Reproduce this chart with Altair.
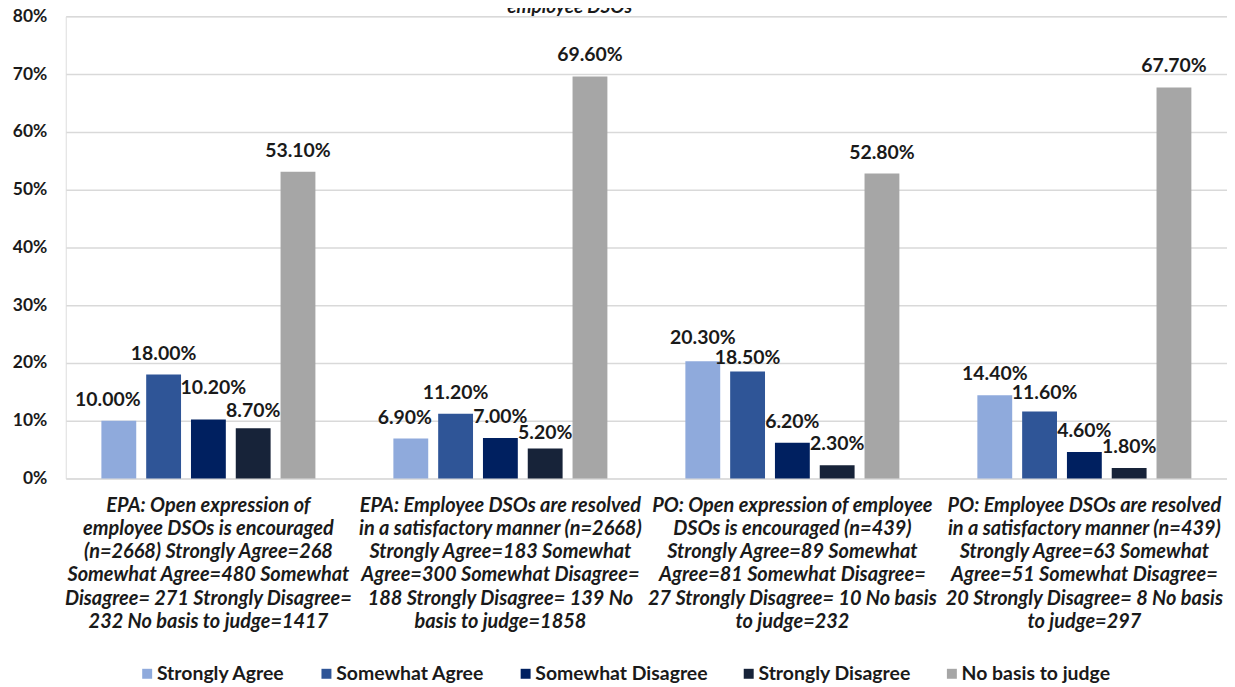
import altair as alt
import pandas as pd

CATEGORIES = [
    "EPA: Open expression of|employee DSOs is encouraged|(n=2668) Strongly Agree=268|Somewhat Agree=480 Somewhat|Disagree= 271 Strongly Disagree=|232 No basis to judge=1417",
    "EPA: Employee DSOs are resolved|in a satisfactory manner (n=2668)|Strongly Agree=183 Somewhat|Agree=300 Somewhat Disagree=|188 Strongly Disagree= 139 No|basis to judge=1858",
    "PO: Open expression of employee|DSOs is encouraged (n=439)|Strongly Agree=89 Somewhat|Agree=81 Somewhat Disagree=|27 Strongly Disagree= 10 No basis|to judge=232",
    "PO: Employee DSOs are resolved|in a satisfactory manner (n=439)|Strongly Agree=63 Somewhat|Agree=51 Somewhat Disagree=|20 Strongly Disagree= 8 No basis|to judge=297",
]
SERIES = ["Strongly Agree", "Somewhat Agree", "Somewhat Disagree", "Strongly Disagree", "No basis to judge"]

STRONGLY_AGREE = [10.0, 6.9, 20.3, 14.4]
SOMEWHAT_AGREE = [18.0, 11.2, 18.5, 11.6]
SOMEWHAT_DISAGREE = [10.2, 7.0, 6.2, 4.6]
STRONGLY_DISAGREE = [8.7, 5.2, 2.3, 1.8]
NO_BASIS = [53.1, 69.6, 52.8, 67.7]

TITLE_TAIL = "employee DSOs"

COLORS = ["#8FAADC", "#2F5597", "#002060", "#172339", "#A6A6A6"]
TEXT_COLOR = "#1A1A1A"
FONT = "Lato"

# small label nudges (pixels) as placed in the original, keyed by (group, series)
LABEL_NUDGE = {
    (0, "Strongly Agree"): (-11, 0),
    (0, "Somewhat Disagree"): (5, -11),
    (0, "Strongly Disagree"): (0, 4),
    (1, "Strongly Agree"): (-6, 0),
    (1, "Strongly Disagree"): (0, 6),
    (2, "Strongly Agree"): (0, -2),
    (2, "Somewhat Agree"): (0, 7),
    (3, "Somewhat Agree"): (5, 2),
}

series_values = [STRONGLY_AGREE, SOMEWHAT_AGREE, SOMEWHAT_DISAGREE, STRONGLY_DISAGREE, NO_BASIS]
rows = []
for ci, cat in enumerate(CATEGORIES):
    for si, s in enumerate(SERIES):
        v = series_values[si][ci]
        ndx, ndy = LABEL_NUDGE.get((ci, s), (0, 0))
        rows.append({"category": cat, "series": s, "value": v,
                     "label": f"{v:.2f}%", "ndx": ndx, "ndy": ndy})
df = pd.DataFrame(rows)

base = alt.Chart(df).encode(
    x=alt.X("category:N", sort=CATEGORIES,
            scale=alt.Scale(paddingInner=0.233, paddingOuter=0.105),
            axis=alt.Axis(title=None, labelExpr="split(datum.label, '|')", labelAngle=0,
                          ticks=False, tickSize=0, domain=False, labelFont=FONT,
                          labelFontSize=20, labelFontStyle="italic", labelFontWeight="bold",
                          labelColor=TEXT_COLOR, labelLineHeight=23.3, labelPadding=17,
                          labelLimit=500, labelAlign="center", labelBaseline="top")),
    xOffset=alt.XOffset("series:N", sort=SERIES,
                        scale=alt.Scale(paddingInner=0.222, paddingOuter=0.111)),
    y=alt.Y("value:Q", scale=alt.Scale(domain=[0, 80], nice=False),
            axis=alt.Axis(title=None, values=list(range(0, 81, 10)),
                          labelExpr="datum.value + '%'", grid=True, gridColor="#D9D9D9",
                          gridWidth=1.5, domain=False, ticks=False, labelPadding=19,
                          labelFont=FONT, labelFontSize=17.5, labelFontWeight="bold",
                          labelColor=TEXT_COLOR)),
)

bars = base.mark_bar().encode(
    color=alt.Color("series:N", sort=SERIES,
                    scale=alt.Scale(domain=SERIES, range=COLORS),
                    legend=alt.Legend(title=None, orient="none", legendX=72, legendY=650,
                                      direction="horizontal", columns=5,
                                      symbolType="square", symbolSize=100,
                                      symbolStrokeWidth=0, labelFont=FONT,
                                      labelFontSize=19.5, labelFontWeight="bold",
                                      labelColor=TEXT_COLOR, labelOffset=0,
                                      columnPadding=31, labelLimit=400))
)

labels = base.mark_text(
    baseline="middle", align="center", font=FONT, fontSize=19.5, fontWeight="bold",
    color=TEXT_COLOR, dx=alt.expr("datum.ndx"), dy=alt.expr("datum.ndy - 21"),
).encode(text="label:N")

title = alt.Chart(pd.DataFrame({"t": [TITLE_TAIL]})).mark_text(
    font=FONT, fontSize=19, fontWeight="bold", fontStyle="italic", color=TEXT_COLOR,
    baseline="alphabetic", align="center",
).encode(x=alt.value(506), y=alt.value(-3), text="t:N")

chart = alt.layer(bars, labels, title).properties(
    width=1166, height=464,
    autosize=alt.AutoSizeParams(type="none"),
    padding={"left": 58, "top": 7, "right": 0, "bottom": 206},
).configure_view(stroke=None).configure(background="white")

chart.save("out.html", embed_options={"renderer": "svg", "actions": False})
